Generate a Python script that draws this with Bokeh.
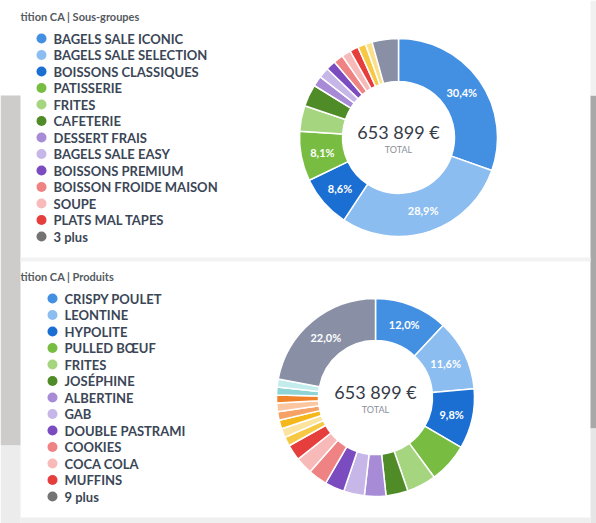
import numpy as np
from bokeh.plotting import figure
from bokeh.models import Range1d, ColumnDataSource
from bokeh.core.properties import value
from bokeh.embed import file_html
from bokeh.resources import INLINE

W, H = 596, 523
FONT = value("Lato")

# ---------------- data ----------------
total_text = "653 899 €"

sg_title = "tition CA | Sous-groupes"
sg_legend = ["BAGELS SALE ICONIC", "BAGELS SALE SELECTION", "BOISSONS CLASSIQUES",
             "PATISSERIE", "FRITES", "CAFETERIE", "DESSERT FRAIS", "BAGELS SALE EASY",
             "BOISSONS PREMIUM", "BOISSON FROIDE MAISON", "SOUPE", "PLATS MAL TAPES",
             "3 plus"]
sg_values = [30.4, 28.9, 8.6, 8.1, 4.2, 3.6, 1.7, 1.7, 1.6, 1.6, 1.5, 1.4, 1.3, 1.1, 4.3]
sg_colors = ["#4390e3", "#8cbdf0", "#1b6fd3", "#78bd42", "#a5d67f", "#4f8b26",
             "#a78bd6", "#c7b6e8", "#7a4cc0", "#ef8282", "#f8b9b9", "#e63d3d",
             "#f6c843", "#fbe08c", "#8990a6"]
sg_legend_colors = sg_colors[:12] + ["#737373"]

pr_title = "tition CA | Produits"
pr_legend = ["CRISPY POULET", "LEONTINE", "HYPOLITE", "PULLED BŒUF", "FRITES",
             "JOSÉPHINE", "ALBERTINE", "GAB", "DOUBLE PASTRAMI", "COOKIES",
             "COCA COLA", "MUFFINS", "9 plus"]
pr_values = [12.0, 11.6, 9.8, 6.5, 4.8, 3.6, 3.5, 3.4, 3.2, 3.1, 2.8, 2.6,
             1.5, 1.5, 1.4, 1.4, 1.4, 1.3, 1.3, 1.3, 22.0]
pr_colors = ["#4390e3", "#8cbdf0", "#1b6fd3", "#78bd42", "#a5d67f", "#4f8b26",
             "#a78bd6", "#c7b6e8", "#7a4cc0", "#ef8282", "#f8b9b9", "#e63d3d",
             "#f6c843", "#fce3a0", "#f5b81c", "#f6a265", "#fbc6a0", "#f0832a",
             "#8fd4d4", "#c3ecec", "#8990a6"]
pr_legend_colors = pr_colors[:12] + ["#737373"]

# ---------------- figure ----------------
p = figure(width=W, height=H, x_range=Range1d(0, W), y_range=Range1d(0, H),
           min_border=0, output_backend="svg", toolbar_location=None)
p.axis.visible = False
p.grid.visible = False
p.outline_line_color = None
p.background_fill_color = "white"
p.border_fill_color = "white"


def Y(py):
    return H - py


# background photo strips / panel borders (decoration)
p.quad(left=[0], right=[20], bottom=[Y(445)], top=[Y(95)], color="#cdcccb", line_color=None)
p.quad(left=[0], right=[20], bottom=[Y(523)], top=[Y(445)], color="#ececec", line_color=None)
p.quad(left=[590], right=[596], bottom=[Y(428)], top=[Y(95)], color="#a8a8a8", line_color=None)
p.quad(left=[590], right=[596], bottom=[Y(523)], top=[Y(428)], color="#e6e6e6", line_color=None)
p.quad(left=[590], right=[596], bottom=[Y(95)], top=[Y(0)], color="#f1f1f1", line_color=None)
p.quad(left=[20], right=[590], bottom=[Y(261)], top=[Y(257)], color="#f2f2f2", line_color=None)
p.quad(left=[20], right=[590], bottom=[Y(523)], top=[Y(517)], color="#efefef", line_color=None)


def donut(values, colors, cx, cy, r_in, r_out):
    v = np.array(values, dtype=float)
    tot = v.sum()
    cum = np.cumsum(v)
    start = np.pi / 2 - 2 * np.pi * cum / tot
    end = np.pi / 2 - 2 * np.pi * (cum - v) / tot
    src = ColumnDataSource(dict(start=start, end=end, color=colors))
    p.annular_wedge(x=cx, y=cy, inner_radius=r_in, outer_radius=r_out,
                    start_angle="start", end_angle="end", fill_color="color",
                    line_color="white", line_width=1.5, source=src)
    mid = np.pi / 2 - 2 * np.pi * (cum - v / 2) / tot
    rm = (r_in + r_out) / 2
    keep = v >= 8
    lbl = ColumnDataSource(dict(
        x=(cx + rm * np.cos(mid))[keep], y=(cy + rm * np.sin(mid))[keep],
        t=[("%.1f%%" % x).replace(".", ",") for x in v[keep]]))
    p.text(x="x", y="y", text="t", source=lbl, text_align="center",
           text_baseline="middle", text_color="white", text_font=FONT,
           text_font_style="bold", text_font_size="11px")
    p.text(x=[cx], y=[cy + 6], text=[total_text], text_align="center",
           text_baseline="middle", text_color="#353b48", text_font=FONT,
           text_font_size="18px")
    p.text(x=[cx], y=[cy - 12], text=["TOTAL"], text_align="center",
           text_baseline="middle", text_color="#8a8f98", text_font=FONT,
           text_font_size="9px")


def legend(title, labels, colors, x0, ty, y0, step=16.5):
    p.text(x=[20], y=[Y(ty)], text=[title], text_align="left", text_baseline="middle",
           text_color="#555a60", text_font=FONT, text_font_style="bold",
           text_font_size="11px")
    ys = [Y(y0 + i * step) for i in range(len(labels))]
    p.scatter(x=[x0] * len(labels), y=ys, size=10, color=colors, line_color=None)
    p.text(x=[x0 + 12] * len(labels), y=ys, text=labels, text_align="left",
           text_baseline="middle", text_color="#3b4656", text_font=FONT,
           text_font_style="bold", text_font_size="13px")


legend(sg_title, sg_legend, sg_legend_colors, 41, 16, 38)
legend(pr_title, pr_legend, pr_legend_colors, 52, 276, 298)
donut(sg_values, sg_colors, 398, Y(137), 56, 99)
donut(pr_values, pr_colors, 375, Y(397), 57, 99)

open("out.html", "w").write(file_html(p, INLINE))
